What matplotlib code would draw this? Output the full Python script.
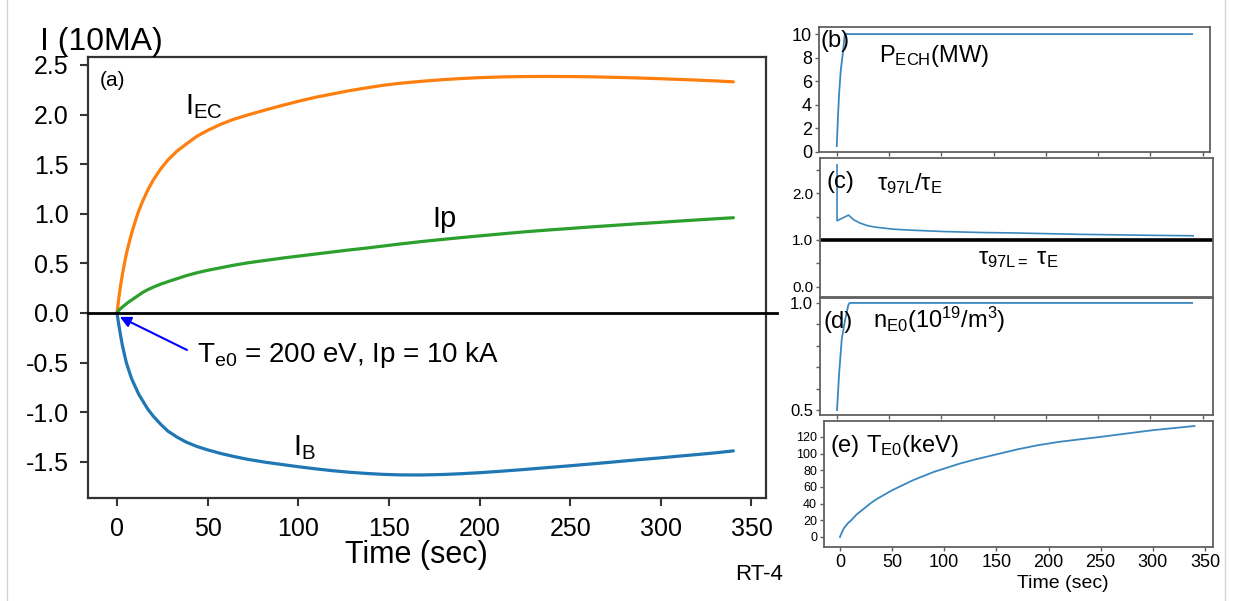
import matplotlib
matplotlib.use("Agg")
import matplotlib.pyplot as plt

plt.rcParams['font.family'] = ['Liberation Sans', 'DejaVu Sans']
plt.rcParams['mathtext.fontset'] = 'custom'
plt.rcParams['mathtext.rm'] = 'Liberation Sans'
plt.rcParams['mathtext.it'] = 'Liberation Sans:italic'
plt.rcParams['axes.unicode_minus'] = False

# ---- (a) current components, units of 10 MA ----
t_main = [0, 1, 2, 3, 4, 5, 6, 8, 10, 12, 14, 17, 20, 24, 28, 33, 38, 44, 50,
          57, 64, 72, 82, 92, 101, 110, 119, 128, 138, 147, 156, 168, 180,
          190, 200, 212, 225, 237, 250, 262, 275, 287, 300, 310, 320, 330, 340]
i_ec = [0.0, 0.15, 0.28, 0.39, 0.49, 0.58, 0.66, 0.80, 0.92, 1.03, 1.12, 1.24,
        1.34, 1.45, 1.54, 1.63, 1.70, 1.78, 1.84, 1.90, 1.95, 1.995, 2.047,
        2.096, 2.138, 2.176, 2.208, 2.24, 2.27, 2.295, 2.315, 2.335, 2.352,
        2.363, 2.372, 2.379, 2.383, 2.384, 2.383, 2.38, 2.375, 2.369, 2.361,
        2.354, 2.347, 2.339, 2.33]
i_p = [0.0, 0.025, 0.045, 0.06, 0.075, 0.09, 0.105, 0.13, 0.155, 0.18, 0.205,
       0.235, 0.26, 0.29, 0.315, 0.345, 0.375, 0.405, 0.43, 0.455, 0.48,
       0.505, 0.53, 0.555, 0.575, 0.595, 0.615, 0.635, 0.655, 0.675, 0.695,
       0.72, 0.742, 0.76, 0.777, 0.797, 0.818, 0.835, 0.852, 0.868, 0.884,
       0.899, 0.914, 0.926, 0.938, 0.949, 0.96]
i_b = [0.0, -0.12, -0.23, -0.33, -0.41, -0.49, -0.55, -0.66, -0.74, -0.82,
       -0.88, -0.97, -1.04, -1.12, -1.19, -1.25, -1.30, -1.345, -1.38, -1.415,
       -1.445, -1.475, -1.505, -1.53, -1.552, -1.572, -1.59, -1.605, -1.618,
       -1.627, -1.632, -1.633, -1.628, -1.62, -1.61, -1.595, -1.577, -1.559,
       -1.54, -1.521, -1.50, -1.48, -1.46, -1.443, -1.427, -1.41, -1.39]

# ---- (b) ECH power (MW) ----
t_ech = [0, 1.0, 2.2, 3.8, 6.1, 7.7, 340]
p_ech = [0.5, 2.7, 4.9, 6.9, 8.6, 10.0, 10.0]

# ---- (c) confinement time ratio tau97L / tauE ----
t_tau = [0, 0, 11, 16, 22, 30, 38, 54, 70, 102, 137, 169, 233, 300, 341]
tau_ratio = [2.6, 1.41, 1.53, 1.43, 1.36, 1.30, 1.27, 1.23, 1.21, 1.18, 1.16,
             1.15, 1.12, 1.10, 1.09]

# ---- (d) central density (1e19 m^-3) ----
t_ne = [0, 2, 4.5, 7.7, 10.8, 12, 340]
n_e0 = [0.50, 0.67, 0.83, 0.92, 0.99, 1.0, 1.0]

# ---- (e) central temperature (keV) ----
t_te = [0, 1, 2, 4, 6, 8, 10, 13, 16, 20, 25, 30, 36, 43, 50, 60, 70, 80, 90,
        100, 115, 130, 150, 170, 190, 210, 230, 250, 275, 300, 320, 340]
t_e0 = [0, 3, 6, 11, 14, 17, 19, 23, 27, 31, 36, 41, 46, 51, 56, 62, 68, 73,
        78, 82, 88, 93, 99, 105, 110, 114, 117, 120, 124, 128, 130.5, 133]

main_ticks_y = [-1.5, -1.0, -0.5, 0.0, 0.5, 1.0, 1.5, 2.0, 2.5]
time_ticks = [0, 50, 100, 150, 200, 250, 300, 350]

W, H = 1239, 601
fig = plt.figure(figsize=(W / 100, H / 100), dpi=100)


def box(l, t, r, b):
    return [l / W, 1 - b / H, (r - l) / W, (b - t) / H]


def ftext(x, y, s, **kw):
    return fig.text(x / W, 1 - y / H, s, **kw)


# thin frame lines at the image borders
for xp in (7, 1225):
    fig.add_artist(plt.Line2D([xp / W, xp / W], [0, 1], color='#d4d4d4', lw=1.0))

# ================= panel (a) =================
ax = fig.add_axes(box(88, 57, 766, 498))
ax.plot(t_main, i_ec, color='#ff7f0e', lw=2.3, solid_capstyle='round')
ax.plot(t_main, i_p, color='#2ca02c', lw=2.3, solid_capstyle='round')
ax.plot(t_main, i_b, color='#1f77b4', lw=2.3, solid_capstyle='round')
ax.axhline(0, xmin=0, xmax=1.016, color='black', lw=2.0, clip_on=False, zorder=3)
ax.set_xlim(-16, 358)
ax.set_ylim(-1.865, 2.58)
ax.set_yticks(main_ticks_y)
ax.set_yticklabels([f'{v:.1f}' for v in main_ticks_y])
ax.set_xticks(time_ticks)
ax.tick_params(axis='both', direction='out', length=6, width=1.5,
               color='#333333', labelsize=18, pad=8)
for s in ax.spines.values():
    s.set_color('#333333')
    s.set_linewidth(1.6)

ax.text(-9.5, 2.34, '(a)', fontsize=15, va='center', ha='left')
ax.text(37.5, 2.0, r'$\mathregular{I_{EC}}$', fontsize=21, va='baseline')
ax.text(174, 0.87, 'Ip', fontsize=21, va='baseline')
ax.text(97, -1.43, r'$\mathregular{I_{B}}$', fontsize=21, va='baseline')
ax.annotate('', xy=(1.6, -0.04), xytext=(38.6, -0.373),
            arrowprops=dict(arrowstyle='-|>', color='blue', lw=1.5,
                            mutation_scale=16, shrinkA=0, shrinkB=0))
ax.text(44.1, -0.497, r'$\mathregular{T_{e0}}$ = 200 eV, Ip = 10 kA',
        fontsize=20, va='baseline', ha='left')

ftext(40, 50, 'I (10MA)', fontsize=23, va='baseline', ha='left')
ftext(416, 563, 'Time (sec)', fontsize=22, va='baseline', ha='center')
ftext(735, 580, 'RT-4', fontsize=16, va='baseline', ha='left')


def style_small(a, ysize):
    for s in a.spines.values():
        s.set_color('#606060')
        s.set_linewidth(1.3)
    a.tick_params(axis='both', direction='out', length=3, width=1.0,
                  color='#606060', labelsize=ysize, pad=2)
    a.set_xticks(time_ticks)


blue = '#3a87c0'

# ================= panel (b) =================
axb = fig.add_axes(box(819, 27, 1210, 152))
axb.plot(t_ech, p_ech, color=blue, lw=1.3)
axb.set_xlim(-17, 357)
axb.set_ylim(0, 10.6)
axb.set_yticks([0, 2, 4, 6, 8, 10])
style_small(axb, 13)
axb.set_xticklabels([])
ftext(820, 47, '(b)', fontsize=17, va='baseline')
ftext(879, 62, r'$\mathregular{P_{ECH}(MW)}$', fontsize=17, va='baseline')

# ================= panel (c) =================
axc = fig.add_axes(box(820, 158, 1213, 297))
axc.plot(t_tau, tau_ratio, color=blue, lw=1.2)
axc.axhline(1.0, color='black', lw=2.6)
axc.set_xlim(-16.3, 360)
axc.set_ylim(-0.213, 2.745)
axc.set_yticks([0.0, 0.5, 1.0, 1.5, 2.0, 2.5])
axc.set_yticklabels(['0.0', '', '1.0', '', '2.0', ''])
style_small(axc, 11)
axc.set_xticklabels([])
ftext(827, 188, '(c)', fontsize=17, va='baseline')
ftext(877, 190, r'$\mathregular{τ_{97L}/τ_E}$', fontsize=17, va='baseline')
ftext(978, 264, r'$\mathregular{τ_{97L= }\ τ_E}$', fontsize=17, va='baseline')

# ================= panel (d) =================
axd = fig.add_axes(box(820, 298, 1213, 415))
axd.plot(t_ne, n_e0, color=blue, lw=1.3)
axd.set_xlim(-16.3, 360)
axd.set_ylim(0.477, 1.023)
axd.set_yticks([0.5, 0.6, 0.7, 0.8, 0.9, 1.0])
axd.set_yticklabels(['0.5', '', '', '', '', '1.0'])
style_small(axd, 12)
axd.set_xticklabels([])
ftext(823, 328, '(d)', fontsize=17, va='baseline')
ftext(873, 328, r'$\mathregular{n_{E0}(10^{19}/m^3)}$', fontsize=17, va='baseline')

# ================= panel (e) =================
axe = fig.add_axes(box(824, 421, 1213, 547))
axe.plot(t_te, t_e0, color=blue, lw=1.3)
axe.set_xlim(-15.3, 357.7)
axe.set_ylim(-12, 139)
axe.set_yticks([0, 20, 40, 60, 80, 100, 120])
style_small(axe, 9)
axe.tick_params(axis='x', labelsize=13)
ftext(830, 452, '(e)', fontsize=17, va='baseline')
ftext(866, 452, r'$\mathregular{T_{E0}(keV)}$', fontsize=17, va='baseline')
ftext(1063, 588, 'Time (sec)', fontsize=14, va='baseline', ha='center')

fig.savefig('out.png', dpi=100, facecolor='white')
